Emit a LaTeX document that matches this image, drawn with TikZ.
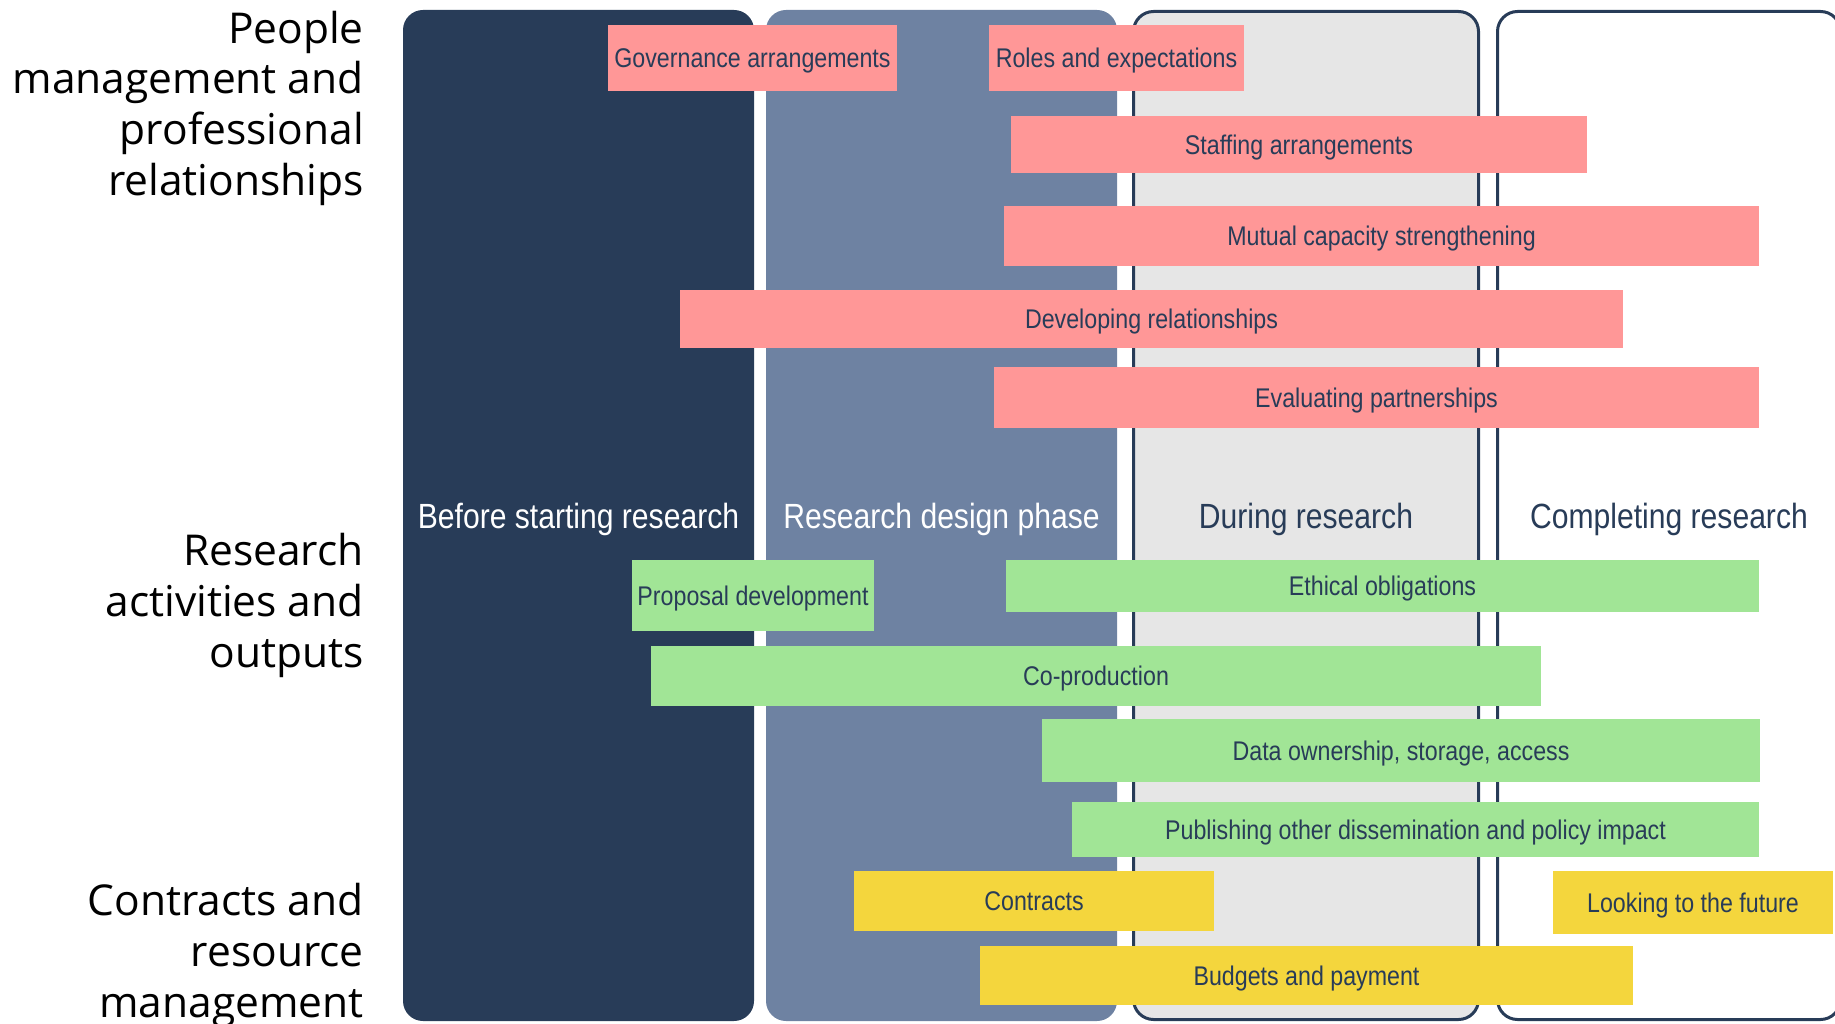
\documentclass[tikz,border=0pt]{standalone}
\usepackage{fontspec}
\setmainfont{Liberation Sans}
\newfontfamily\barfont[FakeStretch=0.86]{Liberation Sans}
\newfontfamily\sidefont{Open Sans}
\definecolor{navy}{HTML}{283C58}
\definecolor{slate}{HTML}{6E82A2}
\definecolor{lightgrey}{HTML}{E6E6E6}
\definecolor{pinkbar}{HTML}{FF9797}
\definecolor{greenbar}{HTML}{A1E596}
\definecolor{yellowbar}{HTML}{F4D63D}
\begin{document}
\begin{tikzpicture}[x=1pt,y=-1pt,
  col/.style={rectangle, rounded corners=20pt, inner sep=0pt, minimum height=1011pt,
    font={\barfont\fontsize{35}{40}\selectfont}, text height=25pt, text depth=0pt},
  bar/.style={rectangle, inner sep=0pt, text=navy,
    font={\barfont\fontsize{27}{32}\selectfont}, text height=19.3pt, text depth=0pt},
  pbar/.style={bar, fill=pinkbar},
  gbar/.style={bar, fill=greenbar},
  ybar/.style={bar, fill=yellowbar},
  side/.style={align=right, inner sep=0pt, text=black,
    font={\sidefont\fontsize{42.5}{50.7}\selectfont}}
]
\useasboundingbox (0,0) rectangle (1835,1024);

% columns
\node[col, fill=navy, text=white, minimum width=351pt] (c1) at (578.5,515.5) {Before starting research};
\node[col, fill=slate, text=white, minimum width=351pt] (c2) at (941.5,515.5) {Research design phase};
\node[col, fill=lightgrey, draw=navy, line width=3pt, text=navy, minimum width=345pt, minimum height=1008pt] (c3) at (1306,515.5) {During research};
\node[col, fill=white, draw=navy, line width=3pt, text=navy, minimum width=343pt, minimum height=1008pt] (c4) at (1669,515.5) {Completing research};

% people management bars
\node[pbar, minimum width=289pt, minimum height=66pt] (gov) at (752.5,58) {Governance arrangements};
\node[pbar, minimum width=255pt, minimum height=66pt] (roles) at (1116.5,58) {Roles and expectations};
\node[pbar, minimum width=576pt, minimum height=57pt] (staff) at (1299,144.5) {Staffing arrangements};
\node[pbar, minimum width=755pt, minimum height=60pt] (mutual) at (1381.5,236) {Mutual capacity strengthening};
\node[pbar, minimum width=943pt, minimum height=58pt] (devel) at (1151.5,319) {Developing relationships};
\node[pbar, minimum width=765pt, minimum height=61pt] (evalp) at (1376.5,397.5) {Evaluating partnerships};

% research activities bars
\node[gbar, minimum width=242pt, minimum height=71pt] (prop) at (753,595.5) {Proposal development};
\node[gbar, minimum width=753pt, minimum height=52pt] (ethic) at (1382.5,586) {Ethical obligations};
\node[gbar, minimum width=890pt, minimum height=60pt] (coprod) at (1096,676) {Co-production};
\node[gbar, minimum width=718pt, minimum height=63pt] (data) at (1401,750.5) {Data ownership, storage, access};
\node[gbar, minimum width=687pt, minimum height=55pt] (publ) at (1415.5,829.5) {Publishing other dissemination and policy impact};

% contracts bars
\node[ybar, minimum width=360pt, minimum height=60pt] (contr) at (1034,901) {Contracts};
\node[ybar, minimum width=653pt, minimum height=59pt] (budg) at (1306.5,975.5) {Budgets and payment};
\node[ybar, minimum width=280pt, minimum height=63pt] (look) at (1693,902.5) {Looking to the future};

% side labels (base anchor = baseline of last line)
\node[side, anchor=base east] (lab1) at (364,195.4) {People\\management and\\professional\\relationships};
\node[side, anchor=base east] (lab2) at (364,667) {Research\\activities and\\outputs};
\node[side, anchor=base east] (lab3) at (364,1017) {Contracts and\\resource\\management};
\end{tikzpicture}
\end{document}
